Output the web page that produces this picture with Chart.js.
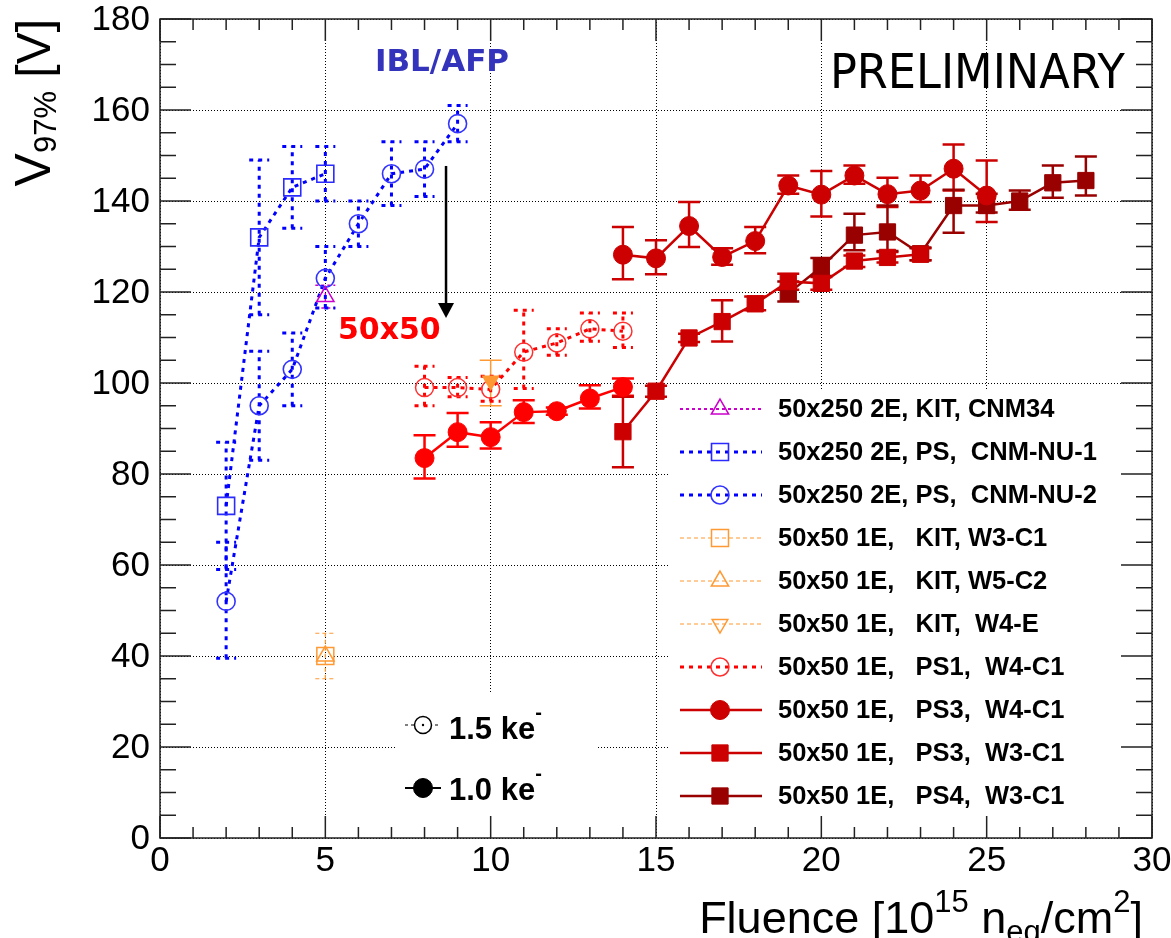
<!DOCTYPE html>
<html>
<head>
<meta charset="utf-8">
<script src="https://cdn.jsdelivr.net/npm/chart.js@4.4.0/dist/chart.umd.min.js"></script>
<style>
  html, body { margin: 0; padding: 0; background: #fff; }
</style>
</head>
<body>
<canvas id="c" width="1171" height="938"></canvas>
<script>
// values: fluence [1e15 neq/cm2] -> V97% [V], error bar low / high

// 50x250 2E, KIT, CNM34
const cnm34_x = [5];
const cnm34_y = [119];
const cnm34_lo = [116.5];
const cnm34_hi = [121.5];

// 50x250 2E, PS, CNM-NU-1
const nu1_x = [2, 3, 4, 5];
const nu1_y = [73, 132, 143, 146];
const nu1_lo = [59, 115, 134, 140];
const nu1_hi = [87, 149, 152, 152];

// 50x250 2E, PS, CNM-NU-2
const nu2_x = [2, 3, 4, 5, 6, 7, 8, 9];
const nu2_y = [52, 95, 103, 123, 135, 146, 147, 157];
const nu2_lo = [39.5, 83, 95, 116.5, 130, 139, 141, 153];
const nu2_hi = [65, 107, 111, 130, 140, 153, 153, 161];

// 50x50 1E, KIT (W3-C1, W5-C2, W4-E)
const kitW3_x = [5];
const kitW3_y = [40];
const kitW3_lo = [35];
const kitW3_hi = [45];
const kitW5_x = [5];
const kitW5_y = [40];
const kitW4_x = [10];
const kitW4_y = [100.5];
const kitW4_lo = [95];
const kitW4_hi = [105];

// 50x50 1E, PS1, W4-C1 at 1.5 ke
const ps1_x = [8, 9, 10, 11, 12, 13, 14];
const ps1_y = [99, 99, 98.6, 106.8, 108.8, 111.9, 111.4];
const ps1_lo = [95, 97, 96, 98.8, 106.1, 109.2, 107.8];
const ps1_hi = [103.7, 101.2, 101.5, 116, 111.9, 115.4, 115.4];

// same module at 1.0 ke (not in legend)
const ps1b_x = [8, 9, 10, 11, 12, 13, 14];
const ps1b_y = [83.5, 89.2, 88.1, 93.6, 93.8, 96.6, 99.1];
const ps1b_lo = [79, 86, 85.6, 91.2, 93, 94.4, 97.2];
const ps1b_hi = [88.5, 93.4, 91.4, 96.2, 94.6, 99.5, 101];

// 50x50 1E, PS3, W4-C1
const ps3c_x = [14, 15, 16, 17, 18, 19, 20, 21, 22, 23, 24, 25];
const ps3c_y = [128.2, 127.4, 134.5, 127.7, 131.2, 143.4, 141.4, 145.6, 141.5, 142.3, 147.1, 141.2];
const ps3c_lo = [122.8, 123.9, 129.9, 126, 128.5, 141.6, 136.6, 143.8, 138.7, 139.8, 142.3, 135.4];
const ps3c_hi = [134.3, 131.4, 139.8, 129.6, 134.3, 145.6, 146.6, 147.8, 145.1, 145.6, 152.4, 148.9];

// 50x50 1E, PS3, W3-C1
const ps3s_x = [14, 15, 16, 17, 18, 19, 20, 21, 22, 23];
const ps3s_y = [89.3, 98.2, 109.9, 113.5, 117.4, 122.3, 121.9, 126.8, 127.6, 128.3];
const ps3s_lo = [81.5, 97, 109, 109.1, 116, 120.5, 120.5, 125.5, 126.5, 127];
const ps3s_hi = [97, 99.4, 110.8, 118.2, 119, 124, 123.3, 128, 128.8, 129.6];

// 50x50 1E, PS4, W3-C1
const ps4_x = [19, 20, 21, 22, 23, 24, 25, 26, 27, 28];
const ps4_y = [119.7, 125.5, 132.5, 133.2, 128.4, 139, 139, 140, 144, 144.5];
const ps4_lo = [117.9, 123.5, 129.2, 129, 127, 133, 137.5, 138.1, 140.7, 141.2];
const ps4_hi = [122.3, 127.5, 137.2, 139, 129.8, 142.5, 141.6, 142.3, 147.8, 149.8];

const xTicks = [0, 5, 10, 15, 20, 25, 30];
const yTicks = [0, 20, 40, 60, 80, 100, 120, 140, 160, 180];

const FONT = "'Liberation Sans', Arial, Helvetica, sans-serif";

function pts(xs, ys) {
    return xs.map((x, i) => ({ x: x, y: ys[i] }));
}

function drawMarker(ctx, style, x, y, r, rot, fill, stroke, lw) {
    ctx.save();
    ctx.setLineDash([]);
    ctx.beginPath();
    if (style === 'circle') {
        ctx.arc(x, y, r, 0, 2 * Math.PI);
    } else if (style === 'rect') {
        const s = r * Math.SQRT1_2;
        ctx.rect(x - s, y - s, 2 * s, 2 * s);
    } else {
        let a = (rot || 0) * Math.PI / 180;
        for (let k = 0; k < 3; k++) {
            const px = x + Math.sin(a) * r, py = y - Math.cos(a) * r;
            if (k === 0) ctx.moveTo(px, py); else ctx.lineTo(px, py);
            a += 2 * Math.PI / 3;
        }
        ctx.closePath();
    }
    ctx.fillStyle = fill;
    ctx.fill();
    ctx.lineWidth = lw;
    ctx.strokeStyle = stroke;
    ctx.stroke();
    ctx.restore();
}

// text in pieces, parts = [text, size, dy]
function richWidth(ctx, parts, weight) {
    let w = 0;
    parts.forEach(p => { ctx.font = weight + ' ' + p[1] + 'px ' + FONT; w += ctx.measureText(p[0]).width; });
    return w;
}
function drawRich(ctx, parts, x, y, weight) {
    let cx = x;
    parts.forEach(p => {
        ctx.font = weight + ' ' + p[1] + 'px ' + FONT;
        ctx.fillText(p[0], cx, y + p[2]);
        cx += ctx.measureText(p[0]).width;
    });
}

const datasets = [
    {
        label: '50x250 2E, KIT, CNM34', legendRow: 0,
        data: pts(cnm34_x, cnm34_y), errLo: cnm34_lo, errHi: cnm34_hi,
        borderColor: '#cc00cc', borderWidth: 2, borderDash: [3, 3],
        pointStyle: 'triangle', pointRadius: 10, pointBorderWidth: 1.5,
        pointBorderColor: '#cc00cc', pointBackgroundColor: 'rgba(0,0,0,0)',
        errWidth: 1.5, errDash: [3, 3], capHalf: 10
    },
    {
        label: '50x250 2E, PS,  CNM-NU-1', legendRow: 1,
        data: pts(nu1_x, nu1_y), errLo: nu1_lo, errHi: nu1_hi,
        borderColor: '#0000ff', borderWidth: 3, borderDash: [4, 5],
        pointStyle: 'rect', pointRadius: 12, pointBorderWidth: 1.6,
        pointBorderColor: '#2b2bff', pointBackgroundColor: 'rgba(0,0,0,0)',
        errWidth: 3, errDash: [4, 5], capHalf: 10
    },
    {
        label: '50x250 2E, PS,  CNM-NU-2', legendRow: 2,
        data: pts(nu2_x, nu2_y), errLo: nu2_lo, errHi: nu2_hi,
        borderColor: '#0000ff', borderWidth: 3, borderDash: [4, 5],
        pointStyle: 'circle', pointRadius: 9, pointBorderWidth: 1.6,
        pointBorderColor: '#3333ff', pointBackgroundColor: 'rgba(0,0,0,0)',
        errWidth: 3, errDash: [4, 5], capHalf: 10
    },
    {
        label: '50x50 1E,   KIT, W3-C1', legendRow: 3,
        data: pts(kitW3_x, kitW3_y), errLo: kitW3_lo, errHi: kitW3_hi,
        borderColor: '#ff9933', borderWidth: 1.2, borderDash: [4, 3],
        pointStyle: 'rect', pointRadius: 12, pointBorderWidth: 1.5,
        pointBorderColor: '#ff9933', pointBackgroundColor: 'rgba(0,0,0,0)',
        errWidth: 1.2, errDash: [4, 3], capHalf: 10
    },
    {
        label: '50x50 1E,   KIT, W5-C2', legendRow: 4,
        data: pts(kitW5_x, kitW5_y),
        borderColor: '#ff9933', borderWidth: 1.2, borderDash: [4, 3],
        pointStyle: 'triangle', pointRadius: 10, pointBorderWidth: 1.5,
        pointBorderColor: '#ff9933', pointBackgroundColor: 'rgba(0,0,0,0)'
    },
    {
        label: '50x50 1E,   KIT,  W4-E', legendRow: 5, legendOpen: true,
        data: pts(kitW4_x, kitW4_y), errLo: kitW4_lo, errHi: kitW4_hi,
        borderColor: '#ff9933', borderWidth: 1.2, borderDash: [4, 3],
        pointStyle: 'triangle', pointRotation: 180, pointRadius: 9, pointBorderWidth: 1.5,
        pointBorderColor: '#ff9933', pointBackgroundColor: '#ff9933',
        errWidth: 1.5, errDash: [], capHalf: 11
    },
    {
        label: '50x50 1E,   PS1,  W4-C1', legendRow: 6,
        data: pts(ps1_x, ps1_y), errLo: ps1_lo, errHi: ps1_hi,
        borderColor: '#ff0000', borderWidth: 3, borderDash: [4, 5],
        pointStyle: 'circle', pointRadius: 9, pointBorderWidth: 1.5,
        pointBorderColor: '#ff3030', pointBackgroundColor: 'rgba(0,0,0,0)',
        errWidth: 3, errDash: [4, 5], capHalf: 10
    },
    {
        label: '50x50 1E, PS1, W4-C1 (1.0 ke)',
        data: pts(ps1b_x, ps1b_y), errLo: ps1b_lo, errHi: ps1b_hi,
        borderColor: '#ff0000', borderWidth: 2.5,
        pointStyle: 'circle', pointRadius: 9.5, pointBorderWidth: 1,
        pointBorderColor: '#ff0000', pointBackgroundColor: '#ff0000',
        errWidth: 2.5, errDash: [], capHalf: 11
    },
    {
        label: '50x50 1E,   PS3,  W4-C1', legendRow: 7,
        data: pts(ps3c_x, ps3c_y), errLo: ps3c_lo, errHi: ps3c_hi,
        borderColor: '#cc0000', borderWidth: 2.5,
        pointStyle: 'circle', pointRadius: 9.5, pointBorderWidth: 1,
        pointBorderColor: '#cc0000', pointBackgroundColor: '#cc0000',
        errWidth: 2.5, errDash: [], capHalf: 11
    },
    {
        label: '50x50 1E,   PS3,  W3-C1', legendRow: 8,
        data: pts(ps3s_x, ps3s_y), errLo: ps3s_lo, errHi: ps3s_hi,
        borderColor: '#cc0000', borderWidth: 2.5,
        pointStyle: 'rect', pointRadius: 11.5, pointBorderWidth: 1,
        pointBorderColor: '#cc0000', pointBackgroundColor: '#cc0000',
        errWidth: 2.5, errDash: [], capHalf: 11
    },
    {
        label: '50x50 1E,   PS4,  W3-C1', legendRow: 9,
        data: pts(ps4_x, ps4_y), errLo: ps4_lo, errHi: ps4_hi,
        borderColor: '#990000', borderWidth: 2.5,
        pointStyle: 'rect', pointRadius: 11.5, pointBorderWidth: 1,
        pointBorderColor: '#990000', pointBackgroundColor: '#990000',
        errWidth: 2.5, errDash: [], capHalf: 11
    }
];
datasets.forEach(d => { d.showLine = true; d.fill = false; d.tension = 0; });

// annotations in data units
const notes = {
    arrowX: 8.65, arrowTop: 147.7, arrowTip: 114.3,
    ibl: { text: 'IBL/AFP', x: 6.5, y: 168.6 },
    fifty: { text: '50x50', x: 5.38, y: 109.7 },
    prelim: { text: 'PRELIMINARY', x: 29.18, y: 164.8, width: 295 }
};

// white boxes behind the two legends, then error bars
const backdrop = {
    id: 'backdrop',
    beforeDatasetsDraw(chart) {
        const ctx = chart.ctx, a = chart.chartArea;
        ctx.save();
        ctx.fillStyle = '#fff';
        ctx.fillRect(668, 390, a.right - 668, 428);
        ctx.fillRect(397, 692, 200, 126);
        ctx.restore();

        const xs = chart.scales.x, ys = chart.scales.y;
        ctx.save();
        ctx.beginPath();
        ctx.rect(a.left, a.top, a.right - a.left, a.bottom - a.top);
        ctx.clip();
        chart.data.datasets.forEach(ds => {
            if (!ds.errLo) return;
            ctx.strokeStyle = ds.borderColor;
            ctx.lineWidth = ds.errWidth;
            ctx.setLineDash(ds.errDash || []);
            ds.data.forEach((p, i) => {
                const px = xs.getPixelForValue(p.x);
                const yl = ys.getPixelForValue(ds.errLo[i]);
                const yh = ys.getPixelForValue(ds.errHi[i]);
                const c = ds.capHalf;
                ctx.beginPath();
                ctx.moveTo(px, yl); ctx.lineTo(px, yh);
                ctx.moveTo(px - c, yl); ctx.lineTo(px + c, yl);
                ctx.moveTo(px - c, yh); ctx.lineTo(px + c, yh);
                ctx.stroke();
            });
        });
        ctx.restore();
    }
};

const decor = {
    id: 'decor',
    afterDraw(chart) {
        const ctx = chart.ctx, a = chart.chartArea;
        const xs = chart.scales.x, ys = chart.scales.y;

        // frame with inward ticks on all four sides
        ctx.save();
        ctx.strokeStyle = '#222';
        ctx.lineWidth = 1.5;
        ctx.setLineDash([]);
        ctx.strokeRect(a.left, a.top, a.right - a.left, a.bottom - a.top);
        ctx.beginPath();
        for (let v = xs.min; v <= xs.max; v += 1) {
            const px = xs.getPixelForValue(v);
            const len = v % 5 === 0 ? 22 : 11;
            ctx.moveTo(px, a.bottom); ctx.lineTo(px, a.bottom - len);
            ctx.moveTo(px, a.top); ctx.lineTo(px, a.top + len);
        }
        for (let v = ys.min; v <= ys.max; v += 5) {
            const py = ys.getPixelForValue(v);
            const len = v % 20 === 0 ? 31 : 16;
            ctx.moveTo(a.left, py); ctx.lineTo(a.left + len, py);
            ctx.moveTo(a.right, py); ctx.lineTo(a.right - len, py);
        }
        ctx.stroke();
        ctx.restore();

        // tick labels
        ctx.save();
        ctx.fillStyle = '#000';
        ctx.font = '35px ' + FONT;
        ctx.textAlign = 'center';
        ctx.textBaseline = 'top';
        xTicks.forEach(v => ctx.fillText(String(v), xs.getPixelForValue(v), a.bottom + 6));
        ctx.textAlign = 'right';
        ctx.textBaseline = 'middle';
        yTicks.forEach(v => ctx.fillText(String(v), a.left - 10, ys.getPixelForValue(v) + 1));
        ctx.restore();

        // axis titles
        ctx.save();
        ctx.fillStyle = '#000';
        ctx.textBaseline = 'alphabetic';
        const xt = [['Fluence [10', 45, 0], ['15', 31, -21], [' n', 45, 0], ['eq', 31, 9],
                    ['/cm', 45, 0], ['2', 31, -21], [']', 45, 0]];
        const xw = richWidth(ctx, xt, 'normal');
        drawRich(ctx, xt, a.right - 9 - xw, 933, 'normal');

        const yt = [['V', 50, 0], ['97%', 31, 6], [' [V]', 48, 0]];
        const yw = richWidth(ctx, yt, 'normal');
        ctx.translate(50, a.top);
        ctx.rotate(-Math.PI / 2);
        drawRich(ctx, yt, -yw, 0, 'normal');
        ctx.restore();

        // annotations
        ctx.save();
        const ax = xs.getPixelForValue(notes.arrowX);
        const at = ys.getPixelForValue(notes.arrowTop);
        const tip = ys.getPixelForValue(notes.arrowTip);
        ctx.strokeStyle = '#000';
        ctx.fillStyle = '#000';
        ctx.lineWidth = 2.5;
        ctx.beginPath();
        ctx.moveTo(ax, at); ctx.lineTo(ax, tip - 12);
        ctx.stroke();
        ctx.beginPath();
        ctx.moveTo(ax - 8, tip - 15); ctx.lineTo(ax + 8, tip - 15); ctx.lineTo(ax, tip);
        ctx.closePath();
        ctx.fill();

        ctx.font = "bold 31px 'DejaVu Sans', Verdana, sans-serif";
        ctx.fillStyle = '#3333bb';
        ctx.fillText(notes.ibl.text, xs.getPixelForValue(notes.ibl.x), ys.getPixelForValue(notes.ibl.y));
        ctx.font = "bold 30px 'DejaVu Sans', Verdana, sans-serif";
        ctx.fillStyle = '#ff0000';
        ctx.fillText(notes.fifty.text, xs.getPixelForValue(notes.fifty.x), ys.getPixelForValue(notes.fifty.y));

        ctx.font = "48px 'DejaVu Sans Condensed', 'DejaVu Sans', sans-serif";
        ctx.fillStyle = '#000';
        const pw = ctx.measureText(notes.prelim.text).width;
        const f = notes.prelim.width / pw;
        ctx.translate(xs.getPixelForValue(notes.prelim.x) - notes.prelim.width, ys.getPixelForValue(notes.prelim.y));
        ctx.scale(f, 1);
        ctx.fillText(notes.prelim.text, 0, 0);
        ctx.restore();

        // main legend
        ctx.save();
        chart.data.datasets.forEach(ds => {
            if (ds.legendRow === undefined) return;
            const y = 409 + 43 * ds.legendRow;
            ctx.strokeStyle = ds.borderColor;
            ctx.lineWidth = ds.borderWidth;
            ctx.setLineDash(ds.borderDash || []);
            ctx.beginPath();
            ctx.moveTo(680, y); ctx.lineTo(762, y);
            ctx.stroke();
            const fill = ds.legendOpen ? 'rgba(0,0,0,0)' : ds.pointBackgroundColor;
            drawMarker(ctx, ds.pointStyle, 720, y, ds.pointRadius, ds.pointRotation,
                       fill, ds.pointBorderColor, ds.pointBorderWidth);
            ctx.fillStyle = '#000';
            ctx.font = 'bold 25.5px ' + FONT;
            ctx.textBaseline = 'middle';
            ctx.fillText(ds.label, 778, y + 1);
        });
        ctx.restore();

        // threshold legend
        ctx.save();
        ctx.strokeStyle = '#000';
        ctx.lineWidth = 1.2;
        ctx.setLineDash([3, 3]);
        ctx.beginPath(); ctx.moveTo(405, 725); ctx.lineTo(441, 725); ctx.stroke();
        drawMarker(ctx, 'circle', 423, 725, 8.5, 0, '#fff', '#000', 1.5);
        ctx.beginPath(); ctx.arc(423, 725, 1.2, 0, 2 * Math.PI); ctx.fillStyle = '#000'; ctx.fill();
        ctx.setLineDash([]);
        ctx.lineWidth = 2;
        ctx.beginPath(); ctx.moveTo(405, 788); ctx.lineTo(441, 788); ctx.stroke();
        drawMarker(ctx, 'circle', 423, 788, 9.5, 0, '#000', '#000', 1);
        ctx.fillStyle = '#000';
        drawRich(ctx, [['1.5 ke', 31, 0], ['-', 20, -20]], 449, 739, 'bold');
        drawRich(ctx, [['1.0 ke', 31, 0], ['-', 20, -20]], 449, 800, 'bold');
        ctx.restore();
    }
};

new Chart(document.getElementById('c'), {
    type: 'scatter',
    data: { datasets: datasets },
    options: {
        responsive: false,
        animation: false,
        devicePixelRatio: 1,
        layout: { autoPadding: false, padding: { left: 0, right: 19, top: 19, bottom: 0 } },
        plugins: { legend: { display: false }, tooltip: { enabled: false } },
        scales: {
            x: {
                type: 'linear', min: 0, max: 30,
                afterBuildTicks(s) { s.ticks = xTicks.map(v => ({ value: v })); },
                afterFit(s) { s.height = 100; },
                ticks: { display: false },
                grid: { color: '#000', lineWidth: 1, drawTicks: false },
                border: { display: false, dash: [1, 2] }
            },
            y: {
                type: 'linear', min: 0, max: 180,
                afterBuildTicks(s) { s.ticks = yTicks.map(v => ({ value: v })); },
                afterFit(s) { s.width = 160; },
                ticks: { display: false },
                grid: { color: '#000', lineWidth: 1, drawTicks: false },
                border: { display: false, dash: [1, 2] }
            }
        }
    },
    plugins: [backdrop, decor]
});
</script>
</body>
</html>
